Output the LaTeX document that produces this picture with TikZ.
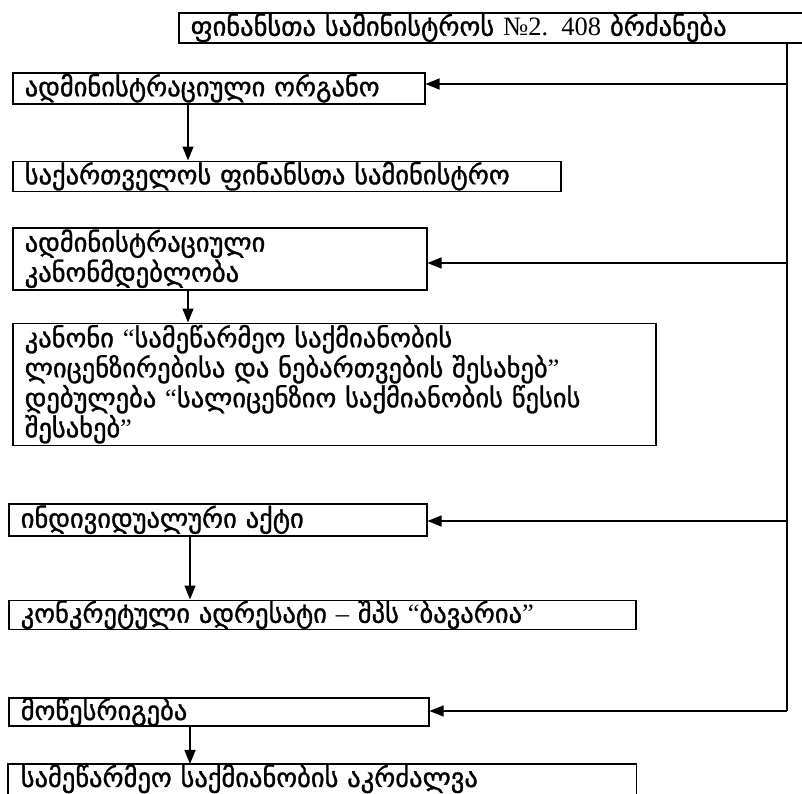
\documentclass[tikz,border=0pt]{standalone}
\usepackage{fontspec}
\setmainfont{DejaVu Sans}[RawFeature={embolden=1.2}]
\newfontfamily\lat{Liberation Serif}
\usetikzlibrary{arrows.meta,positioning}

\begin{document}
\begin{tikzpicture}[
    x=1pt, y=-1pt,
    box/.style={draw, line width=1.5pt, anchor=north west, align=left, inner xsep=12pt, inner ysep=0pt,
                font=\fontsize{26.5}{30}\selectfont},
    arr/.style={-{Triangle[length=14pt,width=11pt]}, line width=1.3pt},
]
\useasboundingbox (0,0) rectangle (802,793);

\node[box, text width=618pt, minimum height=30pt] (ord) at (178,12) {ფინანსთა სამინისტროს {\lat №2. 408} ბრძანება};
\node[box, text width=388pt, minimum height=31pt] (org) at (12,72) {ადმინისტრაციული ორგანო};
\node[box, text width=524pt, minimum height=30pt, below=56pt of org.south west, anchor=north west] (min) {საქართველოს ფინანსთა სამინისტრო};
\node[box, text width=390pt, minimum height=62pt, below=35pt of min.south west, anchor=north west] (leg) {ადმინისტრაციული\\კანონმდებლობა};
\node[box, text width=619pt, minimum height=122pt, below=32pt of leg.south west, anchor=north west] (law) {კანონი {\lat “}სამეწარმეო საქმიანობის\\ლიცენზირებისა და ნებართვების შესახებ{\lat ”}\\დებულება {\lat “}სალიცენზიო საქმიანობის წესის\\შესახებ{\lat ”}};
\node[box, text width=394pt, minimum height=32pt] (act) at (8,503) {ინდივიდუალური აქტი};
\node[box, text width=603pt, minimum height=29pt, below=63pt of act.south west, anchor=north west] (adr) {კონკრეტული ადრესატი {\lat –} შპს {\lat “}ბავარია{\lat ”}};
\node[box, text width=396pt, minimum height=26pt] (reg) at (8,697) {მოწესრიგება};
\node[box, draw=none, text width=603pt, minimum height=27pt, below=37pt of reg.south west, anchor=north west] (ban) {სამეწარმეო საქმიანობის აკრძალვა};
\draw[line width=1.5pt] ([yshift=-30pt]ban.south west) -- (ban.north west) -- (ban.north east) -- ([yshift=-30pt]ban.south east);

% trunk on the right
\coordinate (trunk) at (787,42);
\draw[line width=1.3pt] (trunk) -- (trunk |- 0,711);
\draw[arr] (787,84) -- (org.east |- 0,84);
\draw[arr] (787,263) -- (leg.east |- 0,263);
\draw[arr] (787,521) -- (act.east |- 0,521);
\draw[arr] (787,711) -- (reg.east |- 0,711);

% downward links
\draw[arr] ([xshift=176pt]org.south west) coordinate (a1) -- (a1 |- min.north);
\draw[arr] ([xshift=176pt]leg.south west) coordinate (a2) -- (a2 |- law.north);
\draw[arr] ([xshift=182pt]act.south west) coordinate (a3) -- (a3 |- adr.north);
\draw[arr] ([xshift=182pt]reg.south west) coordinate (a4) -- (a4 |- ban.north);
\end{tikzpicture}
\end{document}
